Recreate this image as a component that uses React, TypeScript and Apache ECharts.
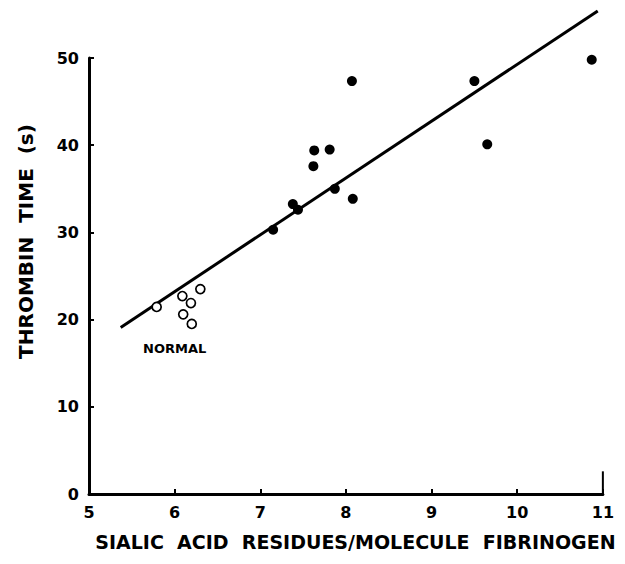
import React, { useEffect, useRef } from "react";
import * as echarts from "echarts";

const patientSialic = [10.87, 8.07, 9.5, 9.65, 7.63, 7.81, 7.62, 7.87, 8.08, 7.38, 7.44, 7.15];
const patientTime = [49.8, 47.35, 47.35, 40.1, 39.4, 39.5, 37.6, 35.0, 33.85, 33.25, 32.6, 30.3];
const normalSialic = [5.79, 6.09, 6.19, 6.3, 6.1, 6.2];
const normalTime = [21.45, 22.7, 21.9, 23.5, 20.6, 19.5];
const fitX = [5.37, 10.94];
const fitY = [19.1, 55.4];
const xTicks = [5, 6, 7, 8, 9, 10, 11];
const yTicks = [0, 10, 20, 30, 40, 50];
const endTickX = [11, 11];
const endTickY = [0, 2.6];
const normalLabel = { x: 6.0, y: 16.7, text: "NORMAL" };

export default function App() {
  const ref = useRef<HTMLDivElement>(null);
  useEffect(() => {
    if (!ref.current) return;
    const chart = echarts.init(ref.current, undefined, { renderer: "svg" });
    const font = "DejaVu Sans";
    chart.setOption({
      animation: false,
      backgroundColor: "#ffffff",
      grid: { left: 75, right: 5, top: 50, bottom: 51 },
      xAxis: {
        type: "value",
        min: xTicks[0],
        max: xTicks[xTicks.length - 1],
        interval: 1,
        splitLine: { show: false },
        axisLine: { lineStyle: { color: "#000", width: 3 } },
        axisTick: { inside: true, length: 5, lineStyle: { color: "#000", width: 2 } },
        axisLabel: { color: "#000", fontFamily: font, fontWeight: "bold", fontSize: 16, margin: 10 },
        name: "SIALIC  ACID  RESIDUES/MOLECULE  FIBRINOGEN",
        nameLocation: "middle",
        nameGap: 38,
        nameTextStyle: { color: "#000", fontFamily: font, fontWeight: "bold", fontSize: 19, padding: [0, 0, 0, 19] },
      },
      yAxis: {
        type: "value",
        min: yTicks[0],
        max: yTicks[yTicks.length - 1],
        interval: 10,
        splitLine: { show: false },
        axisLine: { lineStyle: { color: "#000", width: 3 } },
        axisTick: { inside: true, length: 5, lineStyle: { color: "#000", width: 2 } },
        axisLabel: { color: "#000", fontFamily: font, fontWeight: "bold", fontSize: 16, margin: 10 },
        name: "THROMBIN  TIME  (s)",
        nameLocation: "middle",
        nameGap: 53,
        nameTextStyle: { color: "#000", fontFamily: font, fontWeight: "bold", fontSize: 20, padding: [0, 0, 0, 69] },
      },
      series: [
        {
          type: "line",
          name: "fit",
          data: fitX.map((x, i) => [x, fitY[i]]),
          symbol: "none",
          clip: false,
          lineStyle: { color: "#000", width: 3 },
          z: 2,
        },
        {
          type: "line",
          name: "end tick",
          data: endTickX.map((x, i) => [x, endTickY[i]]),
          symbol: "none",
          clip: false,
          lineStyle: { color: "#000", width: 2 },
          z: 2,
        },
        {
          type: "scatter",
          name: "patients",
          data: patientSialic.map((x, i) => [x, patientTime[i]]),
          symbol: "circle",
          symbolSize: 10,
          itemStyle: { color: "#000", opacity: 1 },
          z: 3,
        },
        {
          type: "scatter",
          name: "normal",
          data: normalSialic.map((x, i) => [x, normalTime[i]]),
          symbol: "circle",
          symbolSize: 9,
          itemStyle: { color: "#fff", borderColor: "#000", borderWidth: 1.7, opacity: 1 },
          z: 3,
        },
        {
          type: "scatter",
          name: "label",
          data: [[normalLabel.x, normalLabel.y]],
          symbolSize: 0,
          itemStyle: { opacity: 1 },
          label: {
            show: true,
            position: "inside",
            formatter: normalLabel.text,
            color: "#000",
            fontFamily: font,
            fontWeight: "bold",
            fontSize: 13,
          },
          z: 4,
        },
      ],
    });
    return () => chart.dispose();
  }, []);
  return <div ref={ref} style={{ width: 609, height: 548 }} />;
}
